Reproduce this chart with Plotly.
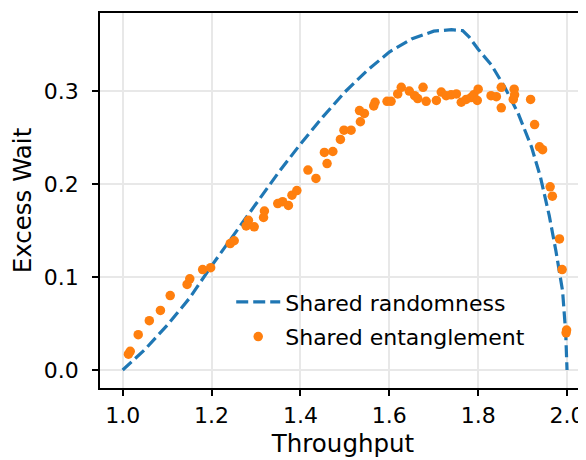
import plotly.graph_objects as go

# Shared randomness (dashed curve)
rand_x = [1.00, 1.05, 1.10, 1.15, 1.20, 1.25, 1.30, 1.35, 1.40, 1.45, 1.50, 1.55,
          1.60, 1.65, 1.70, 1.74, 1.765, 1.78, 1.80, 1.83, 1.86, 1.89, 1.92, 1.94,
          1.96, 1.975, 1.99, 1.997, 2.00]
rand_y = [0.000, 0.022, 0.048, 0.077, 0.112, 0.145, 0.178, 0.212, 0.243, 0.272, 0.299, 0.322,
          0.342, 0.356, 0.3645, 0.366, 0.365, 0.358, 0.345, 0.328, 0.304, 0.276, 0.240, 0.208,
          0.166, 0.128, 0.085, 0.040, 0.000]

# Shared entanglement (scatter points)
ent_x = [1.013, 1.017, 1.035, 1.060, 1.085, 1.107, 1.145, 1.151, 1.180, 1.198,
         1.242, 1.251, 1.278, 1.283, 1.296, 1.317, 1.319, 1.349, 1.360, 1.373,
         1.381, 1.392, 1.417, 1.435, 1.454, 1.460, 1.473, 1.490, 1.498, 1.514,
         1.535, 1.533, 1.544, 1.565, 1.568, 1.595, 1.604, 1.619, 1.627, 1.645,
         1.657, 1.664, 1.676, 1.683, 1.706, 1.717, 1.728, 1.739, 1.751, 1.762,
         1.773, 1.784, 1.790, 1.798, 1.800, 1.829, 1.841, 1.852, 1.852, 1.879,
         1.881, 1.882, 1.918, 1.927, 1.938, 1.945, 1.962, 1.967, 1.983, 1.989,
         1.998, 1.999]
ent_y = [0.017, 0.020, 0.038, 0.053, 0.064, 0.080, 0.092, 0.098, 0.108, 0.110,
         0.136, 0.139, 0.155, 0.161, 0.154, 0.164, 0.171, 0.179, 0.181, 0.177,
         0.188, 0.193, 0.215, 0.206, 0.234, 0.222, 0.235, 0.248, 0.258, 0.258,
         0.267, 0.279, 0.276, 0.284, 0.288, 0.289, 0.289, 0.297, 0.304, 0.300,
         0.295, 0.292, 0.304, 0.289, 0.290, 0.299, 0.295, 0.296, 0.297, 0.288,
         0.291, 0.293, 0.296, 0.290, 0.302, 0.295, 0.294, 0.304, 0.282, 0.291,
         0.302, 0.296, 0.291, 0.264, 0.240, 0.237, 0.197, 0.187, 0.141, 0.108,
         0.040, 0.043]

x_ticks = [1.0, 1.2, 1.4, 1.6, 1.8, 2.0]
y_ticks = [0.0, 0.1, 0.2, 0.3]

FONT = "DejaVu Sans"
FS = 22
TFS = 24.5

fig = go.Figure()
fig.add_trace(go.Scatter(
    x=rand_x, y=rand_y, mode="lines", name="Shared randomness",
    line=dict(color="#1f77b4", width=3.2, dash="12px,5px"),
    legendgroup="a",
))
fig.add_trace(go.Scatter(
    x=ent_x, y=ent_y, mode="markers", name="Shared entanglement",
    marker=dict(color="#ff7f0e", size=9.5, line=dict(width=0)),
    legendgroup="b",
))

axis_common = dict(
    showgrid=True, gridcolor="#e8e8e8", gridwidth=1.5,
    showline=True, linecolor="black", linewidth=1.6,
    ticks="outside", ticklen=6, tickwidth=1.6, tickcolor="black",
    tickfont=dict(family=FONT, size=FS, color="black"),
    zeroline=False, automargin=False,
)

# the page body adds an 8px offset, so the figure is sized to fill the rest
fig.update_layout(
    width=578, height=452,
    margin=dict(l=91.5, r=0, t=5, b=72),
    plot_bgcolor="white", paper_bgcolor="white",
    font=dict(family=FONT, size=FS, color="black"),
    xaxis=dict(range=[0.949, 2.0427], tickvals=x_ticks, tickformat=".1f",
               mirror=True, ticklabelstandoff=1,
               title=dict(text="Throughput", font=dict(family=FONT, size=TFS), standoff=8),
               **axis_common),
    yaxis=dict(range=[-0.0194, 0.384], tickvals=y_ticks, tickformat=".1f",
               ticklabelstandoff=9,
               title=dict(text="Excess Wait", font=dict(family=FONT, size=TFS), standoff=6),
               **axis_common),
    legend=dict(x=0.27, y=0.285, xanchor="left", yanchor="top",
                bgcolor="rgba(255,255,255,0)", borderwidth=0,
                font=dict(family=FONT, size=FS), itemwidth=44,
                traceorder="grouped", tracegroupgap=3),
    showlegend=True,
)

fig.write_html("out.html")
